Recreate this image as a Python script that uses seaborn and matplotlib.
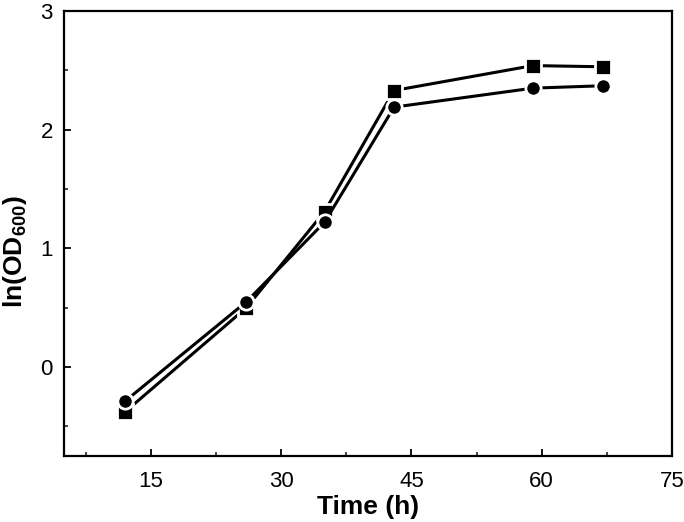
import matplotlib
matplotlib.use("Agg")
import matplotlib.pyplot as plt
from matplotlib.ticker import MultipleLocator
import seaborn as sns
import pandas as pd

time_h = [12, 26, 35, 43, 59, 67]
series_square = [-0.38, 0.50, 1.31, 2.33, 2.54, 2.53]
series_circle = [-0.29, 0.55, 1.22, 2.19, 2.35, 2.37]
x_ticks = [15, 30, 45, 60, 75]
y_ticks = [0, 1, 2, 3]

sns.set_theme(style="white")
plt.rcParams['font.family'] = ['Liberation Sans', 'DejaVu Sans']
plt.rcParams['mathtext.fontset'] = 'custom'
plt.rcParams['mathtext.rm'] = 'Liberation Sans'
plt.rcParams['mathtext.bf'] = 'Liberation Sans:bold'
plt.rcParams['text.color'] = 'black'
plt.rcParams['axes.labelcolor'] = 'black'

df = pd.DataFrame({
    "Time": time_h * 2,
    "value": series_square + series_circle,
    "series": ["square"] * len(time_h) + ["circle"] * len(time_h),
})

fig = plt.figure(figsize=(6.84, 5.22), dpi=100)
ax = fig.add_axes([64 / 684, 66 / 522, 608 / 684, 445 / 522])

sns.lineplot(data=df, x="Time", y="value", hue="series", style="series",
             palette={"square": "black", "circle": "black"},
             markers={"square": "s", "circle": "o"}, dashes=False,
             linewidth=2.2, markersize=11, markeredgecolor="white",
             markeredgewidth=2.0, legend=False, ax=ax, sort=False)

ax.set_xlim(5, 75)
ax.set_ylim(-0.75, 3)
ax.set_xticks(x_ticks)
ax.set_yticks(y_ticks)
ax.xaxis.set_minor_locator(MultipleLocator(7.5))
ax.yaxis.set_minor_locator(MultipleLocator(0.5))
ax.tick_params(axis="both", which="major", direction="in", length=5, width=1.3,
               labelsize=16, colors="black", bottom=True, left=True,
               top=False, right=False)
ax.tick_params(axis="x", which="major", pad=11)
ax.tick_params(axis="y", which="major", pad=8)
ax.tick_params(axis="both", which="minor", direction="in", length=3, width=1.2,
               bottom=True, left=True, top=False, right=False)
for s in ax.spines.values():
    s.set_color("black")
    s.set_linewidth(1.6)

ax.set_xlabel("Time (h)", fontsize=19, fontweight="bold", labelpad=2, color="black")
ax.set_ylabel(r"ln(OD$_{\mathbf{600}}$)", fontsize=19, fontweight="bold", color="black")
ax.yaxis.set_label_coords(-0.058, 0.46)

fig.savefig("out.png", dpi=100)
